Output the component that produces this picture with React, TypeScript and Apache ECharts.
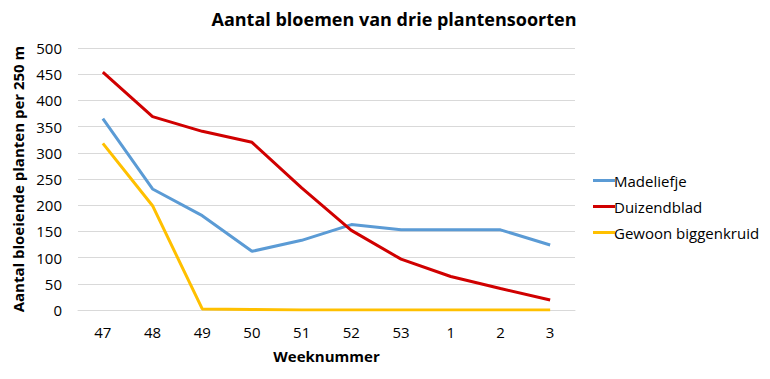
import React, { useEffect, useRef } from "react";
import * as echarts from "echarts";

const weeks = ["47", "48", "49", "50", "51", "52", "53", "1", "2", "3"];
const madeliefje = [365, 231, 180, 112, 133, 163, 153, 153, 153, 124];
const duizendblad = [454, 369, 341, 320, 233, 152, 97, 64, 41, 19];
const biggenkruid = [318, 199, 2, 1, 0, 0, 0, 0, 0, 0];

const FONT = "'Open Sans', 'Noto Sans', sans-serif";

export default function App() {
  const ref = useRef<HTMLDivElement>(null);
  useEffect(() => {
    const chart = echarts.init(ref.current!, null, { renderer: "svg" });
    chart.setOption({
      animation: false,
      backgroundColor: "#ffffff",
      textStyle: { fontFamily: FONT },
      title: {
        text: "Aantal bloemen van drie plantensoorten",
        left: 389,
        textAlign: "center",
        top: 5,
        textStyle: { fontSize: 18, fontWeight: "bold", color: "#000", fontFamily: FONT },
      },
      legend: {
        orient: "vertical",
        left: 588,
        top: 168,
        itemGap: 11,
        itemWidth: 22,
        itemHeight: 3,
        icon: "rect",
        textStyle: { fontSize: 15, color: "#000", fontFamily: FONT, padding: [0, 0, 0, -6] },
        data: ["Madeliefje", "Duizendblad", "Gewoon biggenkruid"],
      },
      grid: { left: 78, right: 195, top: 48, bottom: 69, containLabel: false },
      xAxis: {
        type: "category",
        data: weeks,
        boundaryGap: true,
        axisLine: { lineStyle: { color: "#d9d9d9", width: 1 } },
        axisTick: { show: false },
        axisLabel: { fontSize: 15, color: "#000", margin: 14, fontFamily: FONT },
        name: "Weeknummer",
        nameLocation: "middle",
        nameGap: 38,
        nameTextStyle: { fontSize: 15, fontWeight: "bold", color: "#000", fontFamily: FONT },
      },
      yAxis: {
        type: "value",
        min: 0,
        max: 500,
        interval: 50,
        axisLine: { show: false },
        axisTick: { show: false },
        splitLine: { lineStyle: { color: "#d9d9d9", width: 1 } },
        axisLabel: { fontSize: 15, color: "#000", margin: 16, fontFamily: FONT },
        name: "Aantal bloeiende planten per 250 m",
        nameLocation: "middle",
        nameGap: 48,
        nameRotate: 90,
        nameTextStyle: { fontSize: 15, fontWeight: "bold", color: "#000", fontFamily: FONT },
      },
      series: [
        {
          name: "Madeliefje",
          type: "line",
          data: madeliefje,
          symbol: "none",
          itemStyle: { color: "#5B9BD5" },
          lineStyle: { color: "#5B9BD5", width: 3 },
        },
        {
          name: "Duizendblad",
          type: "line",
          data: duizendblad,
          symbol: "none",
          itemStyle: { color: "#D00000" },
          lineStyle: { color: "#D00000", width: 3 },
        },
        {
          name: "Gewoon biggenkruid",
          type: "line",
          data: biggenkruid,
          symbol: "none",
          itemStyle: { color: "#FFC000" },
          lineStyle: { color: "#FFC000", width: 3 },
        },
      ],
    });
    return () => chart.dispose();
  }, []);
  return <div ref={ref} style={{ width: 770, height: 379, position: "absolute", left: 0, top: 0 }} />;
}
